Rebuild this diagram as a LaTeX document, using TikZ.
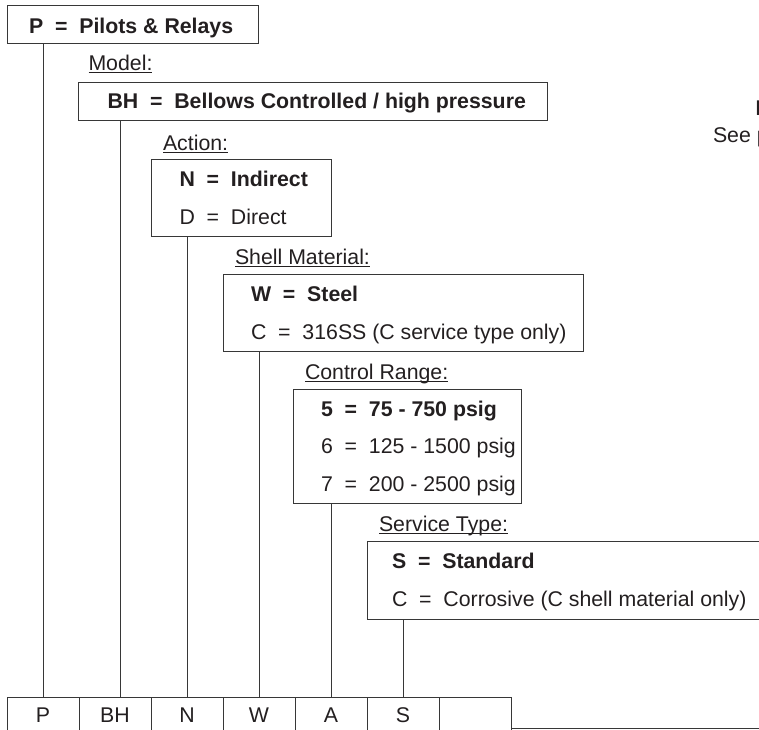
\documentclass[tikz,border=0pt]{standalone}
\usepackage{fontspec}
\setmainfont{Liberation Sans}
\definecolor{textc}{RGB}{35,31,32}
\definecolor{linec}{RGB}{55,55,55}
\begin{document}
\begin{tikzpicture}[x=1pt,y=-1pt,
  txt/.style={inner sep=0pt, outer sep=0pt, font=\fontsize{21.3}{25}\selectfont, text=textc},
  btxt/.style={txt, font=\fontsize{21.3}{25}\selectfont\bfseries},
  optbox/.style={draw=linec, line width=1pt, inner sep=0pt, outer sep=0pt, anchor=north west},
  cellbox/.style={optbox, minimum width=72pt, minimum height=50pt},
  conn/.style={draw=linec, line width=1pt},
  ul/.style={draw=textc, line width=0.9pt}]
\useasboundingbox (0,0) rectangle (759,729);
\clip (0,0) rectangle (759,729);

% Prefix box
\node[optbox, minimum width=251pt, minimum height=38pt] (Pbox) at (7,5) {};
\node[btxt, anchor=base west] (Ptxt) at (29,33) {P\ \ =\ \ Pilots \& Relays};

% Model
\node[txt, anchor=base west] (lModel) at (88.5,70) {Model:};
\draw[ul] ([yshift=-2.5pt]lModel.base west) -- ([yshift=-2.5pt]lModel.base east);
\node[optbox, minimum width=469pt, minimum height=38pt] (BHbox) at (78,82) {};
\node[btxt, anchor=base west] (BHtxt) at (107.5,108.5) {BH\ \ =\ \ Bellows Controlled / high pressure};

% Action
\node[txt, anchor=base west] (lAction) at (163,150) {Action:};
\draw[ul] ([yshift=-2.5pt]lAction.base west) -- ([yshift=-2.5pt]lAction.base east);
\node[optbox, minimum width=180pt, minimum height=77pt] (Nbox) at (151,159) {};
\node[btxt, anchor=base west] (Ntxt) at (179.5,186) {N\ \ =\ \ Indirect};
\node[txt, anchor=base west] (Dtxt) at (179.5,224) {D\ \ =\ \ Direct};

% Shell material
\node[txt, anchor=base west] (lShell) at (235,264) {Shell Material:};
\draw[ul] ([yshift=-2.5pt]lShell.base west) -- ([yshift=-2.5pt]lShell.base east);
\node[optbox, minimum width=360pt, minimum height=77pt] (Wbox) at (223,274) {};
\node[btxt, anchor=base west] (Wtxt) at (251,301) {W\ \ =\ \ Steel};
\node[txt, anchor=base west] (Ctxt) at (251,339) {C\ \ =\ \ 316SS (C service type only)};

% Control range
\node[txt, anchor=base west] (lRange) at (305,379) {Control Range:};
\draw[ul] ([yshift=-2.5pt]lRange.base west) -- ([yshift=-2.5pt]lRange.base east);
\node[optbox, minimum width=228pt, minimum height=114pt] (Rbox) at (293,389) {};
\node[btxt, anchor=base west] (R5) at (321,416) {5\ \ =\ \ 75 - 750 psig};
\node[txt, anchor=base west] (R6) at (321,453.5) {6\ \ =\ \ 125 - 1500 psig};
\node[txt, anchor=base west] (R7) at (321,491) {7\ \ =\ \ 200 - 2500 psig};

% Service type
\node[txt, anchor=base west] (lService) at (379,531) {Service Type:};
\draw[ul] ([yshift=-2.5pt]lService.base west) -- ([yshift=-2.5pt]lService.base east);
\node[optbox, minimum width=450pt, minimum height=78pt] (Sbox) at (367,541) {};
\node[btxt, anchor=base west] (Stxt) at (392,568) {S\ \ =\ \ Standard};
\node[txt, anchor=base west] (SCtxt) at (392,606) {C\ \ =\ \ Corrosive (C shell material only)};

% Note (cut off at right)
\node[btxt, anchor=base west] (note1) at (755.5,115) {N};
\node[txt, anchor=base west] (note2) at (713,142) {See p};

% Bottom row of cells
\node[cellbox] (cP) at (7,697) {};
\node[cellbox] (cBH) at (79,697) {};
\node[cellbox] (cN) at (151,697) {};
\node[cellbox] (cW) at (223,697) {};
\node[cellbox] (cA) at (295,697) {};
\node[cellbox] (cS) at (367,697) {};
\node[cellbox] (cE) at (439,697) {};
\node[txt, anchor=base] at ([yshift=-25pt]cP.north) {P};
\node[txt, anchor=base] at ([yshift=-25pt]cBH.north) {BH};
\node[txt, anchor=base] at ([yshift=-25pt]cN.north) {N};
\node[txt, anchor=base] at ([yshift=-25pt]cW.north) {W};
\node[txt, anchor=base] at ([yshift=-25pt]cA.north) {A};
\node[txt, anchor=base] at ([yshift=-25pt]cS.north) {S};

% Connectors
\draw[conn] (Pbox.south -| cP.north) -- (cP.north);
\draw[conn] ([xshift=42pt]BHbox.south west) -- ([xshift=42pt]BHbox.south west |- cBH.north);
\draw[conn] (Nbox.south -| cN.north) -- (cN.north);
\draw[conn] (Wbox.south -| cW.north) -- (cW.north);
\draw[conn] (Rbox.south -| cA.north) -- (cA.north);
\draw[conn] (Sbox.south -| cS.north) -- (cS.north);
\coordinate (rend) at (775,728);
\draw[conn] (cE.east |- rend) -- (rend);
\end{tikzpicture}
\end{document}
